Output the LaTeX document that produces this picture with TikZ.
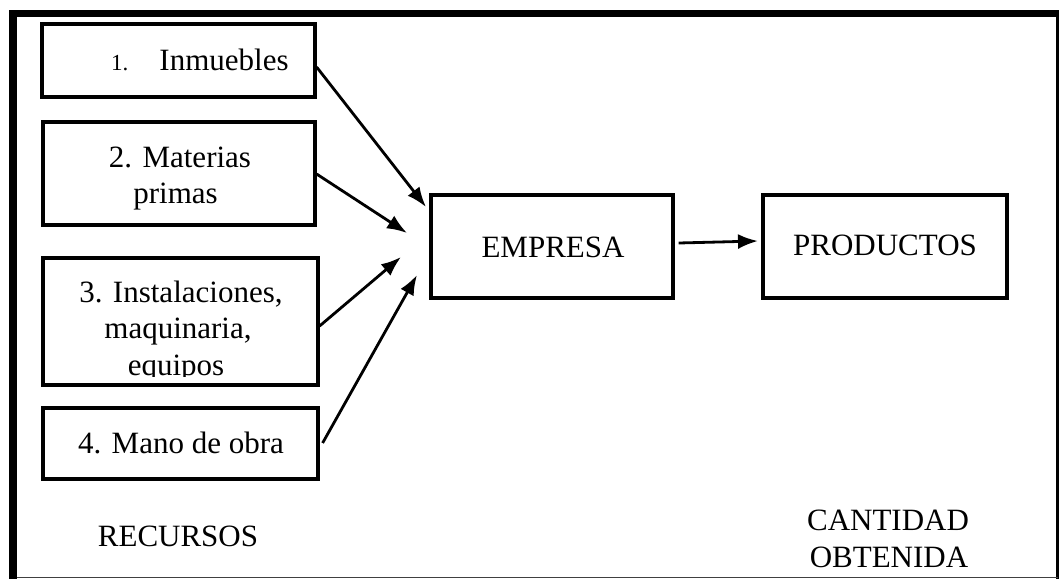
\documentclass[tikz,border=0pt]{standalone}
\usepackage{fontspec}
\setmainfont{Liberation Serif}
\usetikzlibrary{arrows.meta}
\begin{document}
\begin{tikzpicture}[x=1pt,y=-1pt,
  box/.style={draw=black,line width=3.2pt,inner sep=0pt,minimum width=#1},
  lbl/.style={anchor=base,inner sep=0pt,font=\fontsize{31}{36}\selectfont},
  arr/.style={line width=2.8pt,-{Latex[length=20pt,width=15pt]}}]
\useasboundingbox (0,0) rectangle (1059,579);
% outer frame
\fill[black] (9,10) rectangle (17,579);
\fill[black] (9,10) rectangle (1059,17);
\draw[line width=2.2pt] (1057.5,17) -- (1057.5,579);
\draw[line width=1.2pt,black!75] (17,577.5) -- (1058,577.5);

% resource boxes
\node[box=273pt,minimum height=73pt]  (b1) at (178.5,60.5) {};
\node[box=272pt,minimum height=103pt] (b2) at (179,173.5) {};
\node[box=275pt,minimum height=127pt] (b3) at (180.5,321.5) {};
\node[box=275pt,minimum height=71pt]  (b4) at (180.5,443.5) {};
% company and products
\node[box=242pt,minimum height=103pt] (emp) at (552,246.5) {};
\node[box=244pt,minimum height=103pt] (prod) at (885,246.5) {};

% labels
\node[lbl,anchor=base west] (t1) at (111,70) {{\fontsize{23}{23}\selectfont 1.}\hspace{31pt}Inmuebles};
\node[lbl] (t2a) at (180,167) {2. Materias};
\node[lbl] (t2b) at (175.5,203) {primas};
\begin{scope}
  \clip (44,259) rectangle (317,376.5);
  \node[lbl] (t3a) at (181,302) {3. Instalaciones,};
  \node[lbl] (t3b) at (178,338) {maquinaria,};
  \node[lbl] (t3c) at (176,375) {equipos};
\end{scope}
\node[lbl] (t4) at (181,453) {4. Mano de obra};
\node[lbl] (temp) at (553,257) {EMPRESA};
\node[lbl] (tprod) at (885,255) {PRODUCTOS};
\node[lbl] (rec) at (178,546) {RECURSOS};
\node[lbl] (cant1) at (888,530) {CANTIDAD};
\node[lbl] (cant2) at (889,567) {OBTENIDA};

% arrow tips near the company box
\coordinate (e1) at (426,207);
\coordinate (e2) at (407,233);
\coordinate (e3) at (401,257);
\coordinate (e4) at (417,275);
\coordinate (e5) at (758,241);

\draw[arr] ([yshift=-6.5pt]b1.east) -- (e1);
\draw[arr] ([yshift=-0.5pt]b2.east) -- (e2);
\draw[arr] ([yshift=-4.5pt]b3.east) -- (e3);
\draw[arr] ([xshift=3pt,yshift=0.5pt]b4.east) -- (e4);
\draw[arr] ([xshift=4pt,yshift=3.5pt]emp.east) -- (e5);
\end{tikzpicture}
\end{document}
